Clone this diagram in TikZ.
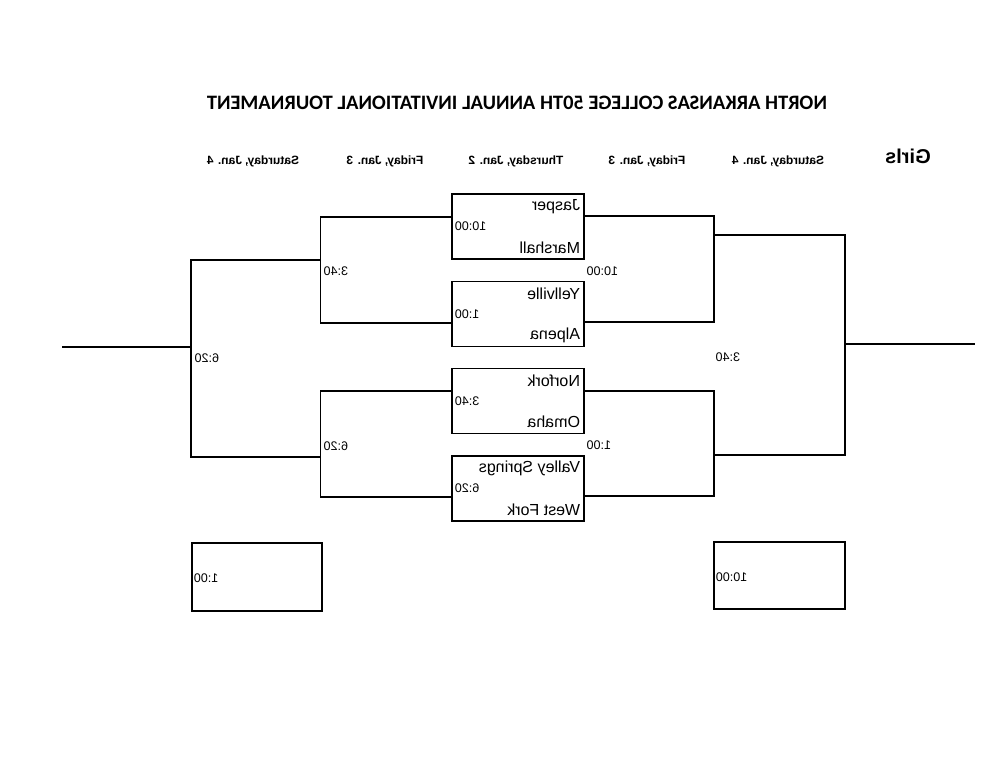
\documentclass[tikz,border=0pt]{standalone}
\usepackage{graphicx}
\usepackage{fontspec}
\setmainfont{Liberation Sans}
\newfontfamily\headfont{Carlito}
\usetikzlibrary{positioning,calc}
\newcommand{\mir}[1]{\reflectbox{#1}}

\begin{document}
\begin{tikzpicture}[x=1pt,y=-1pt,line width=1.5pt,
  every node/.style={inner sep=0pt},
  game/.style={draw,minimum width=132pt,minimum height=65pt},
  team/.style={anchor=east,font=\fontsize{16}{16}\selectfont},
  time/.style={anchor=west,font=\fontsize{12.5}{12.5}\selectfont},
  day/.style={font=\fontsize{12}{12}\selectfont\bfseries}]
  \useasboundingbox (0,0) rectangle (1000,773);

  % headings
  \node[font=\headfont\fontsize{20.5}{20.5}\selectfont\bfseries] (title) at (517,103)
    {\mir{NORTH ARKANSAS COLLEGE 50TH ANNUAL INVITATIONAL TOURNAMENT}};
  \foreach \x/\d [count=\k] in {253/{Saturday, Jan. 4}, 385/{Friday, Jan. 3},
      516/{Thursday, Jan. 2}, 647/{Friday, Jan. 3}, 778/{Saturday, Jan. 4}}
    \node[day] (day\k) at (\x,161) {\mir{\d}};
  \node[font=\fontsize{20}{20}\selectfont\bfseries] (girls) at (908,156) {\mir{Girls}};

  % first round
  \foreach \k/\y/\a/\b/\t in {1/226.5/Jasper/Marshall/10:00, 2/314/Yellville/Alpena/1:00,
      3/401/Norfork/Omaha/3:40, 4/488.5/Valley Springs/West Fork/6:20}{
    \node[game] (g\k) at (518,\y) {};
    \node[team] (g\k a) at ($(g\k.north east)+(-4,13)$) {\mir{\a}};
    \node[team] (g\k b) at ($(g\k.south east)+(-4,-12)$) {\mir{\b}};
    \node[time] (g\k t) at ($(g\k.west)+(3,0)$) {\mir{\t}};
  }

  % left half
  \draw ([yshift=9.5pt]g1.west) -- ++(-131,0) |- ([yshift=-9pt]g2.west);
  \draw ([yshift=10pt]g3.west) -- ++(-131,0) |- ([yshift=-8.5pt]g4.west);
  \coordinate (s1) at (321,260);
  \coordinate (s2) at (321,457);
  \coordinate (lw) at (191,347);
  \coordinate (lend) at (62,347);
  \draw (s1) -| (lw) |- (s2);
  \draw (lw) -- (lend);
  \node[time] (ls1) at (323,271) {\mir{3:40}};
  \node[time] (ls2) at (323,446) {\mir{6:20}};
  \node[time] (lf) at (194,358) {\mir{6:20}};

  % right half
  \draw ([yshift=10.5pt]g1.east) -- ++(129,0) |- ([yshift=-8pt]g2.east);
  \draw ([yshift=10pt]g3.east) -- ++(129,0) |- ([yshift=-7.5pt]g4.east);
  \coordinate (r1) at (713,235);
  \coordinate (r2) at (713,455);
  \coordinate (rw) at (845,344);
  \coordinate (rend) at (975,344);
  \draw (r1) -| (rw) |- (r2);
  \draw (rw) -- (rend);
  \node[time] (rs1) at (586,271) {\mir{10:00}};
  \node[time] (rs2) at (586,445) {\mir{1:00}};
  \node[time] (rf) at (715,357) {\mir{3:40}};

  % consolation
  \node[game,minimum width=130pt,minimum height=68pt] (c1) at (257,577) {};
  \node[time] (c1t) at ($(c1.west)+(2,1)$) {\mir{1:00}};
  \node[game,minimum width=131pt,minimum height=67pt] (c2) at (779.5,575.5) {};
  \node[time] (c2t) at ($(c2.west)+(2,1.5)$) {\mir{10:00}};
\end{tikzpicture}
\end{document}
